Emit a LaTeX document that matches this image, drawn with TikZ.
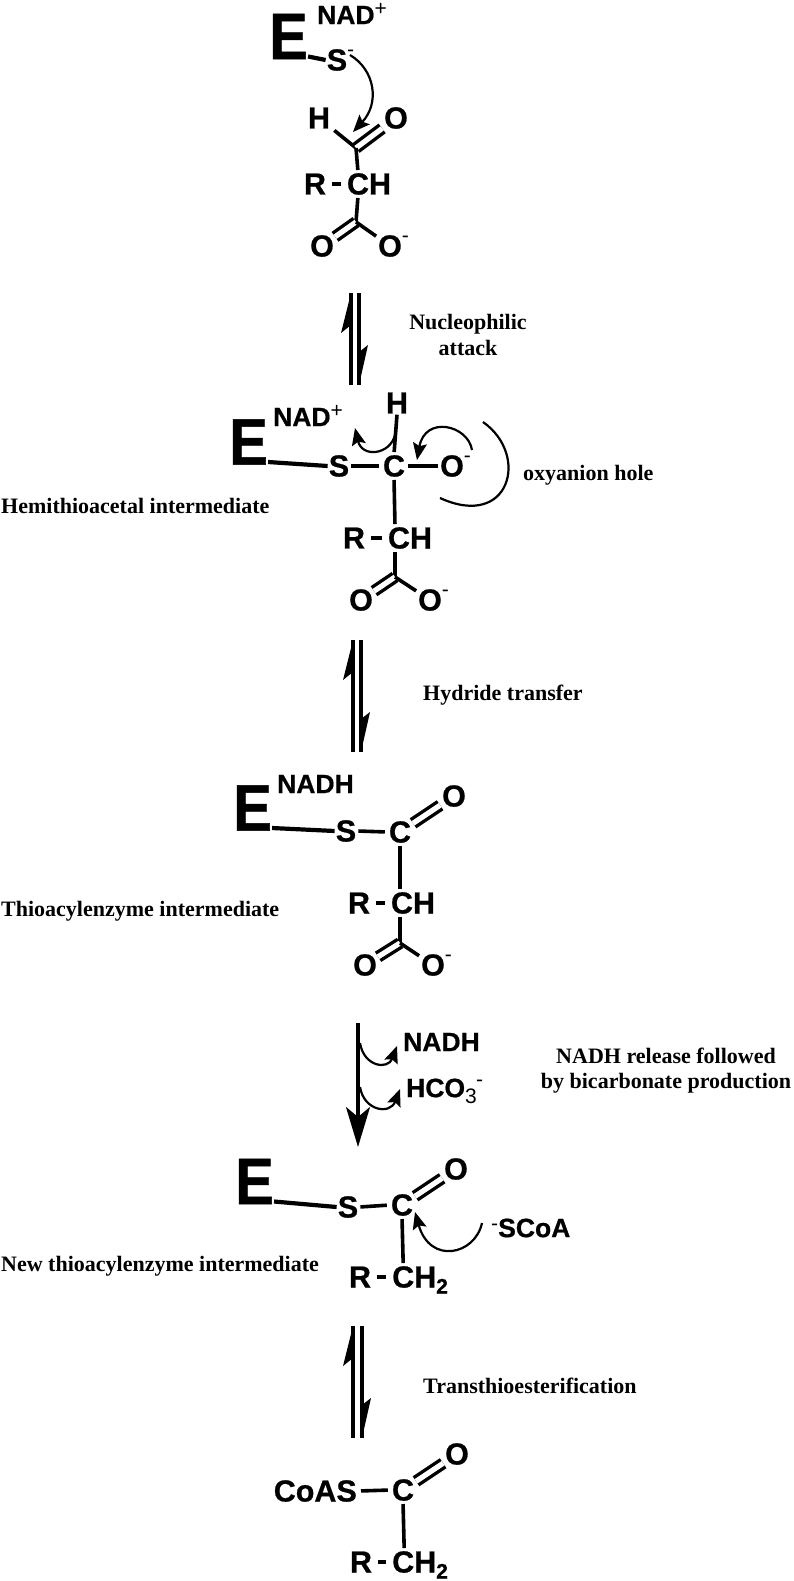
\documentclass[tikz,border=0pt]{standalone}
\usepackage{fontspec}
\setmainfont{Liberation Serif}
\newfontfamily\hv{Liberation Sans}[BoldFeatures={FakeBold=0.7}]
\usetikzlibrary{arrows.meta}
\newcommand{\supr}[2][14pt]{\rlap{\smash{\raisebox{#1}{\fontsize{21}{21}\selectfont\mdseries #2}}}}
\newcommand{\subr}[1]{\rlap{\smash{\raisebox{-6pt}{\fontsize{21}{21}\selectfont #1}}}}
\newcommand{\bigE}{\scalebox{.88}[1]{E}}
\newcommand{\eqarrow}[5]{%
  \coordinate (#1lt) at (#2,#4); \coordinate (#1lb) at (#2,#5);
  \coordinate (#1rt) at (#3,#4); \coordinate (#1rb) at (#3,#5);
  \draw[eqline] (#1lb) -- (#1lt);
  \draw[eqline] (#1rt) -- (#1rb);
  \fill (#1lt) -- ([shift={(-10,40)}]#1lt) -- ([shift={(0,32)}]#1lt) -- cycle;
  \fill (#1rb) -- ([shift={(9,-40)}]#1rb) -- ([shift={(0,-33)}]#1rb) -- cycle;
}
\tikzset{
  atom/.style={font=\hv\bfseries\fontsize{30.5}{30.5}\selectfont,inner sep=1pt},
  enz/.style={font=\hv\bfseries\fontsize{66}{66}\selectfont,inner sep=0pt},
  cof/.style={font=\hv\bfseries\fontsize{26.5}{26.5}\selectfont,inner sep=0pt,anchor=west},
  lab/.style={font=\bfseries\fontsize{22}{22}\selectfont,inner sep=0pt,anchor=base west},
  labc/.style={font=\bfseries\fontsize{22}{22}\selectfont,inner sep=0pt,anchor=base},
  bond/.style={line width=3.6pt},
  enzbond/.style={line width=4.2pt},
  dbl/.style={line width=3.4pt,double,double distance=5.2pt},
  eqline/.style={line width=3.2pt},
  curve/.style={line width=2.2pt,-{Stealth[length=17pt,width=14pt,inset=3pt]}},
  plain/.style={line width=2.2pt},
}
\begin{document}
\begin{tikzpicture}[x=1pt,y=-1pt]
\path[use as bounding box,fill=white] (0,0) rectangle (794,1581);

% --- Structure 1
\node[enz] (e1) at (288.5,36.5) {\bigE};
\node[cof] (n1) at (317,15) {NAD\supr[9pt]{+}};
\node[atom] (s1) at (337,60) {S\supr{-}};
\node[atom] (h1) at (319,118) {H};
\node[atom] (o1) at (396,118) {O};
\coordinate (c1) at (356,148);
\node[atom] (r1) at (315,184) {R};
\node[atom] (ch1) at (369,184) {CH};
\coordinate (j1) at (356,222);
\node[atom] (oa1) at (322,246) {O};
\node[atom] (ob1) at (390,246) {O\supr{-}};
\draw[enzbond] ([yshift=-20pt]e1.east) -- (s1.west);
\draw[bond,shorten <=4pt] (h1) -- (c1);
\draw[dbl,shorten >=1pt] (c1) -- (o1);
\draw[bond,shorten >=2pt] (c1) -- ([xshift=-11pt]ch1.north);
\draw[bond,shorten <=5pt,shorten >=5pt] (r1.east) -- (ch1.west);
\draw[bond,shorten <=2pt] ([xshift=-11pt]ch1.south) -- (j1);
\draw[dbl] (j1) -- (oa1);
\draw[bond,shorten >=1pt] (j1) -- (ob1);
\coordinate (a1s) at (350,55); \coordinate (a1e) at (353,132);
\draw[curve] (a1s) .. controls (375,70) and (380,103) .. (a1e);

\eqarrow{p}{351}{359}{293}{385}
\node[labc] (t1) at (468,329) {Nucleophilic};
\node[labc] (t2) at (468,355) {attack};

% --- Structure 2
\node[enz] (e2) at (248.5,442) {\bigE};
\node[cof] (n2) at (273,417) {NAD\supr[9pt]{+}};
\node[atom] (h2) at (397,403) {H};
\node[atom] (s2) at (339,466) {S};
\node[atom] (c2) at (394,466) {C};
\node[atom] (o2) at (452,466) {O\supr{-}};
\node[atom] (r2) at (354,538) {R};
\node[atom] (ch2) at (410,538) {CH};
\coordinate (j2) at (395,577);
\node[atom] (oa2) at (361,600) {O};
\node[atom] (ob2) at (430,600) {O\supr{-}};
\draw[enzbond] ([yshift=-20pt]e2.east) -- (s2.west);
\draw[bond,shorten <=1pt,shorten >=3pt] (s2.east) -- (c2.west);
\draw[bond,shorten <=2pt,shorten >=1pt] (c2.east) -- (o2.west);
\draw[bond,shorten >=2pt] (h2.south) -- (c2.north);
\draw[bond,shorten <=2pt,shorten >=2pt] (c2.south) -- ([xshift=-15pt]ch2.north);
\draw[bond,shorten <=5pt,shorten >=5pt] (r2.east) -- (ch2.west);
\draw[bond,shorten <=2pt] ([xshift=-15pt]ch2.south) -- (j2);
\draw[dbl] (j2) -- (oa2);
\draw[bond,shorten >=1pt] (j2) -- (ob2);
\coordinate (a2s) at (395,435); \coordinate (a2e) at (355,428);
\draw[curve] (a2s) .. controls (390,455) and (362,458) .. (a2e);
\coordinate (a3s) at (472,450); \coordinate (a3e) at (417,460);
\draw[curve] (a3s) .. controls (468,425) and (425,415) .. (a3e);
\coordinate (a4s) at (483,422); \coordinate (a4e) at (440,498);
\draw[plain] (a4s) .. controls (530,455) and (510,530) .. (a4e);
\node[lab] (t3) at (523,480) {oxyanion hole};
\node[lab] (t4) at (1,513) {Hemithioacetal intermediate};

\eqarrow{q}{353}{361}{640}{752}
\node[lab] (t5) at (423,700) {Hydride transfer};

% --- Structure 3
\node[enz] (e3) at (252.5,808) {\bigE};
\node[cof] (n3) at (277,784) {NADH};
\node[atom] (s3) at (346,831) {S};
\node[atom] (c3) at (400,832) {C};
\node[atom] (o3) at (454,796) {O};
\node[atom] (r3) at (359,903) {R};
\node[atom] (ch3) at (413,903) {CH};
\coordinate (j3) at (400,943);
\node[atom] (oa3) at (365,965) {O};
\node[atom] (ob3) at (433,965) {O\supr{-}};
\draw[enzbond] ([yshift=-20pt]e3.east) -- (s3.west);
\draw[bond,shorten <=1pt,shorten >=3pt] (s3.east) -- (c3.west);
\draw[dbl,shorten <=1pt,shorten >=1pt] (c3) -- (o3);
\draw[bond,shorten <=2pt,shorten >=2pt] (c3.south) -- ([xshift=-13pt]ch3.north);
\draw[bond,shorten <=5pt,shorten >=5pt] (r3.east) -- (ch3.west);
\draw[bond,shorten <=2pt] ([xshift=-13pt]ch3.south) -- (j3);
\draw[dbl] (j3) -- (oa3);
\draw[bond,shorten >=1pt] (j3) -- (ob3);
\node[lab] (t6) at (1,916) {Thioacylenzyme intermediate};

% --- Irreversible step
\coordinate (m1) at (358,1023); \coordinate (m2) at (358,1147);
\draw[eqline,-{Stealth[length=40pt,width=24pt,inset=10pt]}] (m1) -- (m2);
\node[cof] (n4) at (403,1042) {NADH};
\node[cof] (n5) at (406,1088) {HCO\subr{\mdseries 3}\hspace{11pt}\supr[11pt]{-}};
\coordinate (a5s) at (360,1043); \coordinate (a5e) at (397,1046);
\draw[curve] (a5s) .. controls (364,1067) and (388,1070) .. (a5e);
\coordinate (a6s) at (360,1087); \coordinate (a6e) at (400,1089);
\draw[curve] (a6s) .. controls (364,1111) and (390,1115) .. (a6e);
\node[labc] (t7) at (666,1063) {NADH release followed};
\node[labc] (t8) at (666,1088) {by bicarbonate production};

% --- Structure 4
\node[enz] (e4) at (254.5,1181.5) {\bigE};
\node[atom] (s4) at (348,1207) {S};
\node[atom] (c4) at (402,1205) {C};
\node[atom] (o4) at (456,1169) {O};
\node[atom] (r4) at (360,1277) {R};
\node[cof,font=\hv\bfseries\fontsize{30.5}{30.5}\selectfont,inner sep=1pt] (ch4) at (391,1277) {CH\subr{\bfseries 2}};
\node[cof] (sc) at (491,1228) {\rlap{\smash{\raisebox{7pt}{\fontsize{21}{21}\selectfont\mdseries -}}}\hspace{7pt}SCoA};
\draw[enzbond] ([yshift=-20pt]e4.east) -- (s4.west);
\draw[bond,shorten <=1pt,shorten >=3pt] (s4.east) -- (c4.west);
\draw[dbl,shorten <=1pt,shorten >=1pt] (c4) -- (o4);
\draw[bond,shorten <=2pt,shorten >=2pt] (c4.south) -- ([xshift=-11pt]ch4.north);
\draw[bond,shorten <=5pt,shorten >=5pt] (r4.east) -- (ch4.west);
\coordinate (a7s) at (482,1223); \coordinate (a7e) at (415,1212);
\draw[curve] (a7s) .. controls (475,1255) and (430,1265) .. (a7e);
\node[lab] (t9) at (1,1271) {New thioacylenzyme intermediate};

\eqarrow{w}{353}{362}{1326}{1438}
\node[lab] (t10) at (423,1393) {Transthioesterification};

% --- Structure 5
\node[atom,anchor=east] (s5) at (358,1491) {CoAS};
\node[atom] (c5) at (403,1490) {C};
\node[atom] (o5) at (457,1454) {O};
\node[atom] (r5) at (361,1562) {R};
\node[cof,font=\hv\bfseries\fontsize{30.5}{30.5}\selectfont,inner sep=1pt] (ch5) at (391,1562) {CH\subr{\bfseries 2}};
\draw[bond,shorten <=3pt,shorten >=3pt] (s5.east) -- (c5.west);
\draw[dbl,shorten <=1pt,shorten >=1pt] (c5) -- (o5);
\draw[bond,shorten <=2pt,shorten >=2pt] (c5.south) -- ([xshift=-10pt]ch5.north);
\draw[bond,shorten <=5pt,shorten >=5pt] (r5.east) -- (ch5.west);
\end{tikzpicture}
\end{document}
